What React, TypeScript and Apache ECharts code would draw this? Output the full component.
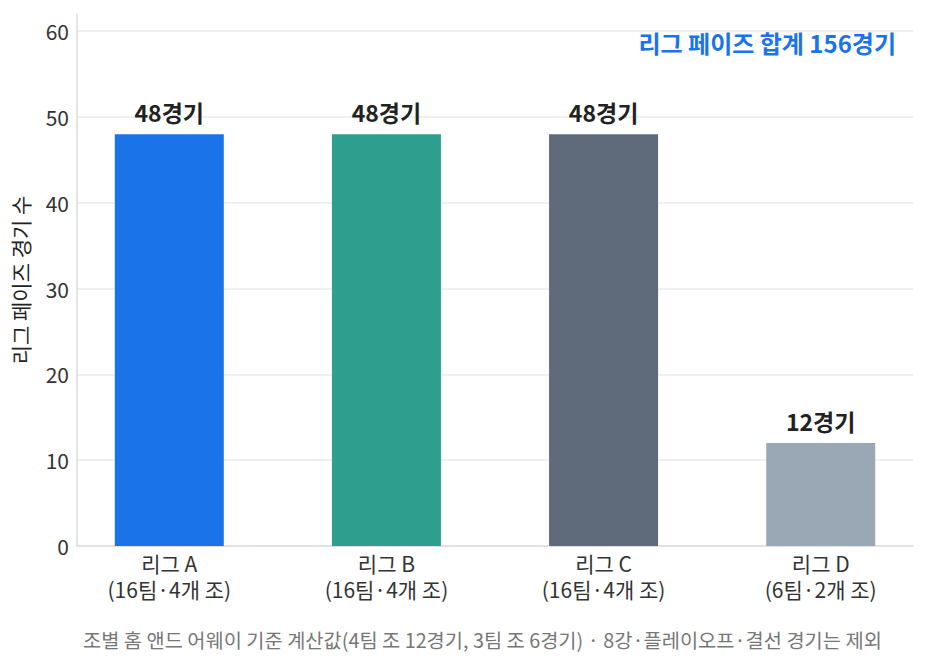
import React, { useEffect, useRef } from 'react';
import * as echarts from 'echarts';

const leagues = ['리그 A', '리그 B', '리그 C', '리그 D'];
const leagueSubs = ['(16팀·4개 조)', '(16팀·4개 조)', '(16팀·4개 조)', '(6팀·2개 조)'];
const matchCounts = [48, 48, 48, 12];
const barColors = ['#1a73e8', '#2e9e8e', '#5f6b7b', '#9aa8b5'];
const yTicks = [0, 10, 20, 30, 40, 50, 60];

const FONT = '"Noto Sans CJK KR", "Noto Sans", sans-serif';

const App: React.FC = () => {
  const chartRef = useRef<HTMLDivElement>(null);

  useEffect(() => {
    if (!chartRef.current) return;
    const chart = echarts.init(chartRef.current, null, { renderer: 'svg' });

    const total = matchCounts.reduce((a, b) => a + b, 0);

    const options: echarts.EChartsOption = {
      animation: false,
      textStyle: { fontFamily: FONT },
      grid: { left: 77, right: 16, top: 14, bottom: 121 },
      title: [
        {
          text: `리그 페이즈 합계 ${total}경기`,
          right: 28,
          top: 25,
          textStyle: { fontFamily: FONT, fontSize: 24, fontWeight: 'bold', color: '#1a73e8' },
        },
        {
          text: '조별 홈 앤드 어웨이 기준 계산값(4팀 조 12경기, 3팀 조 6경기) · 8강·플레이오프·결선 경기는 제외',
          left: 78,
          top: 625,
          textStyle: { fontFamily: FONT, fontSize: 19.8, fontWeight: 'normal', color: '#777777' },
        },
      ],
      xAxis: {
        type: 'value',
        min: -0.425,
        max: 3.425,
        axisLine: { show: true, onZero: false, lineStyle: { color: '#dddddd', width: 1.5 } },
        axisTick: { show: false },
        splitLine: { show: false },
        axisLabel: {
          customValues: leagues.map((_, i) => i),
          formatter: (v: number) => {
            const i = Math.round(v);
            return `${leagues[i]}\n${leagueSubs[i]}`;
          },
          fontFamily: FONT,
          fontSize: 21,
          lineHeight: 26,
          color: '#333333',
          margin: 4,
        },
      },
      yAxis: {
        type: 'value',
        min: 0,
        max: 62,
        interval: 10,
        name: '리그 페이즈 경기 수',
        nameLocation: 'middle',
        nameRotate: 90,
        nameGap: 47,
        nameTextStyle: { fontFamily: FONT, fontSize: 21, color: '#222222' },
        axisLine: { show: true, onZero: false, lineStyle: { color: '#dddddd', width: 1.5 } },
        axisTick: { show: false },
        axisLabel: {
          showMaxLabel: false,
          fontFamily: FONT,
          fontSize: 21,
          color: '#333333',
          margin: 8,
          formatter: (v: number) => (yTicks.includes(v) ? String(v) : ''),
        },
        splitLine: { show: true, showMaxLine: false, lineStyle: { color: '#ebebeb', width: 1.5 } },
      } as any,
      series: [
        {
          type: 'bar',
          barWidth: 109,
          data: matchCounts.map((v, i) => ({
            value: [i, v],
            itemStyle: { color: barColors[i] },
          })),
          label: {
            show: true,
            position: 'top',
            distance: 11,
            fontFamily: FONT,
            fontSize: 23,
            fontWeight: 'bold',
            color: '#222222',
            formatter: (p: any) => `${p.value[1]}경기`,
          },
        },
      ],
    };

    chart.setOption(options);
    return () => {
      chart.dispose();
    };
  }, []);

  return (
    <div
      ref={chartRef}
      style={{ position: 'fixed', left: 0, top: 0, width: 929, height: 667, background: '#fff' }}
    />
  );
};

export default App;
